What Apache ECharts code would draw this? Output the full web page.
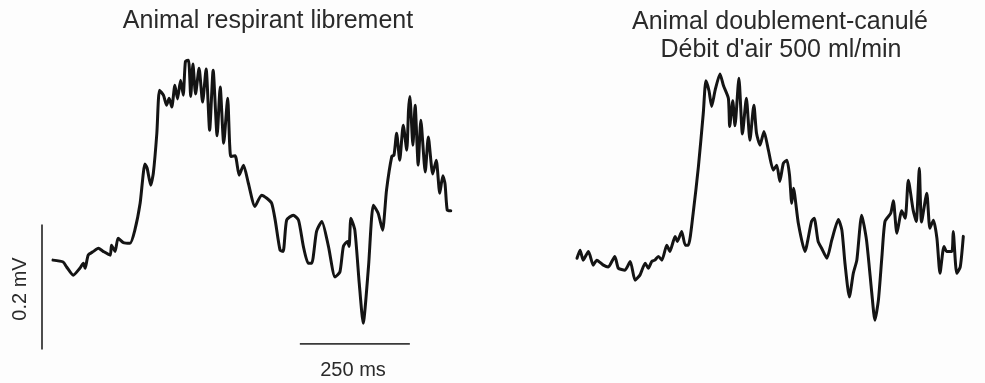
<!DOCTYPE html>
<html>
<head>
<meta charset="utf-8">
<script src="https://cdn.jsdelivr.net/npm/echarts@6/dist/echarts.min.js"></script>
<style>
  html, body { margin: 0; padding: 0; background: #fdfdfd; }
  #chart { width: 985px; height: 383px; }
</style>
</head>
<body>
<div id="chart"></div>
<script>
// titres des deux enregistrements
const titleLeft = 'Animal respirant librement'
const titleRight = ['Animal doublement-canulé', "Débit d'air 500 ml/min"]

// trace 1 : animal respirant librement, [temps (ms), tension (mV)]
const freeTime = [0, 23, 31, 46, 61, 69, 73, 80, 92, 103, 114, 130, 133, 141, 148, 160, 175, 186, 198, 209, 214, 222, 228, 236, 242, 251, 258, 264, 270, 277, 283, 290, 296, 301, 308, 313, 318, 324, 332, 340, 348, 356, 364, 373, 380, 388, 397, 404, 414, 423, 433, 444, 459, 474, 486, 497, 505, 516, 523, 531, 546, 558, 569, 580, 588, 599, 611, 626, 641, 652, 660, 669, 673, 677, 686, 696, 705, 717, 728, 739, 749, 758, 770, 775, 781, 788, 796, 804, 808, 811, 818, 823, 830, 836, 846, 853, 863, 871, 879, 886, 891, 896, 904]
const freeVolt = [0.003, 0.000, -0.008, -0.021, -0.010, -0.002, -0.010, 0.011, 0.017, 0.022, 0.017, 0.011, 0.027, 0.017, 0.038, 0.031, 0.030, 0.051, 0.094, 0.157, 0.150, 0.123, 0.142, 0.206, 0.275, 0.267, 0.251, 0.262, 0.248, 0.283, 0.261, 0.291, 0.267, 0.321, 0.323, 0.265, 0.317, 0.269, 0.310, 0.256, 0.309, 0.211, 0.307, 0.202, 0.280, 0.190, 0.262, 0.169, 0.170, 0.139, 0.155, 0.126, 0.089, 0.107, 0.102, 0.094, 0.067, 0.019, 0.017, 0.067, 0.075, 0.067, 0.025, -0.002, -0.002, 0.049, 0.065, 0.025, -0.024, -0.016, 0.025, 0.033, 0.025, 0.070, 0.051, -0.034, -0.098, -0.008, 0.091, 0.078, 0.051, 0.115, 0.169, 0.171, 0.206, 0.163, 0.219, 0.179, 0.243, 0.265, 0.187, 0.251, 0.155, 0.227, 0.144, 0.200, 0.141, 0.163, 0.110, 0.138, 0.125, 0.083, 0.082]

// trace 2 : animal doublement-canulé, débit 500 ml/min
const canulTime = [0, 7, 14, 26, 37, 45, 60, 71, 86, 94, 109, 121, 132, 143, 155, 162, 170, 177, 185, 193, 204, 211, 223, 228, 238, 246, 253, 264, 276, 287, 293, 300, 306, 314, 325, 333, 344, 347, 354, 359, 368, 376, 385, 393, 402, 408, 416, 425, 435, 446, 454, 461, 469, 477, 483, 488, 492, 503, 518, 533, 539, 548, 556, 568, 579, 594, 602, 609, 619, 628, 636, 647, 658, 670, 677, 685, 693, 700, 713, 719, 727, 738, 746, 753, 764, 771, 778, 783, 795, 802, 810, 818, 825, 834, 840, 852, 855, 863, 871, 878]
const canulVolt = [0.006, 0.019, 0.003, 0.017, -0.005, 0.003, -0.005, -0.008, 0.009, -0.010, -0.013, 0.001, -0.029, -0.021, -0.002, -0.010, 0.001, 0.003, 0.009, 0.003, 0.027, 0.017, 0.041, 0.033, 0.049, 0.027, 0.027, 0.078, 0.153, 0.238, 0.290, 0.274, 0.249, 0.275, 0.301, 0.282, 0.262, 0.217, 0.258, 0.218, 0.294, 0.205, 0.262, 0.195, 0.251, 0.206, 0.187, 0.209, 0.179, 0.147, 0.155, 0.129, 0.158, 0.163, 0.139, 0.094, 0.118, 0.062, 0.017, 0.065, 0.070, 0.033, 0.022, 0.006, 0.035, 0.068, 0.051, -0.002, -0.056, -0.018, 0.003, 0.075, 0.035, -0.050, -0.093, -0.061, 0.009, 0.065, 0.078, 0.098, 0.046, 0.082, 0.070, 0.131, 0.083, 0.065, 0.150, 0.064, 0.110, 0.054, 0.067, 0.038, -0.018, 0.025, 0.017, 0.017, 0.049, -0.018, -0.008, 0.041]

// barres d'échelle : 0.2 mV et 250 ms
const barMvTime = [-25, -25]
const barMvVolt = [0.06, -0.14]
const barMsTime = [561, 811]
const barMsVolt = [-0.131, -0.131]

const zip = (a, b) => a.map((v, i) => [v, b[i]])

// échelle commune aux deux panneaux
const pxPerMs = 0.44
const pxPerMv = 625
const zeroY = 262
const leftX0 = 53, rightX0 = 577
const yMin = (zeroY - 383) / pxPerMv
const yMax = zeroY / pxPerMv

let myChart = echarts.init(document.getElementById('chart'))

const traceStyle = { color: '#141414', width: 3, join: 'round', cap: 'round' }
const barStyle = { color: '#3a3a3a', width: 1.8 }

// petit raccourci pour les textes
const label = (text, x, y, size, rot) => ({
  type: 'text', x: x, y: y, rotation: rot || 0,
  style: {
    text: text, fontSize: size, fontFamily: 'Liberation Sans',
    fill: '#2a2a2a', align: 'center', verticalAlign: 'middle',
  },
})

let option = {
  backgroundColor: '#fdfdfd',
  animation: false,
  grid: [
    { left: 0, top: 0, width: 490, height: 383 },
    { left: 490, top: 0, width: 495, height: 383 },
  ],
  xAxis: [
    { type: 'value', gridIndex: 0, show: false, min: (0 - leftX0) / pxPerMs, max: (490 - leftX0) / pxPerMs },
    { type: 'value', gridIndex: 1, show: false, min: (490 - rightX0) / pxPerMs, max: (985 - rightX0) / pxPerMs },
  ],
  yAxis: [
    { type: 'value', gridIndex: 0, show: false, min: yMin, max: yMax },
    { type: 'value', gridIndex: 1, show: false, min: yMin, max: yMax },
  ],
  series: [
    { type: 'line', xAxisIndex: 0, yAxisIndex: 0, data: zip(freeTime, freeVolt), showSymbol: false, smooth: 0.2, lineStyle: traceStyle },
    { type: 'line', xAxisIndex: 1, yAxisIndex: 1, data: zip(canulTime, canulVolt), showSymbol: false, smooth: 0.2, lineStyle: traceStyle },
    { type: 'line', xAxisIndex: 0, yAxisIndex: 0, data: zip(barMvTime, barMvVolt), showSymbol: false, lineStyle: barStyle },
    { type: 'line', xAxisIndex: 0, yAxisIndex: 0, data: zip(barMsTime, barMsVolt), showSymbol: false, lineStyle: barStyle },
  ],
  graphic: [
    label(titleLeft, 268, 21, 25),
    label(titleRight[0], 780, 22, 25),
    label(titleRight[1], 781, 50, 25),
    label('250 ms', 353, 370, 20),
    label('0.2 mV', 20, 289, 20, Math.PI / 2),
  ],
}

myChart.setOption(option)
</script>
</body>
</html>
